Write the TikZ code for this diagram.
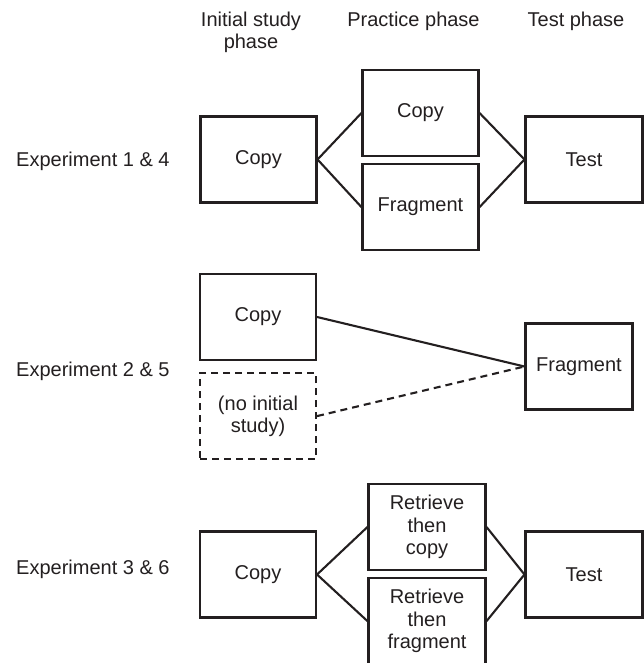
\documentclass[tikz,border=0pt]{standalone}
\usepackage{fontspec}
\setmainfont{Liberation Sans}
\usetikzlibrary{positioning}
\definecolor{ink}{RGB}{35,31,32}

\begin{document}
\begin{tikzpicture}[x=1pt,y=-1pt,
    every node/.style={font=\fontsize{20}{22.5}\selectfont,text=ink},
    box/.style={draw=ink,line width=2.1pt,align=center,inner sep=0pt,
                minimum width=116pt,minimum height=86pt},
    nobox/.style={box,dash pattern=on 7pt off 5pt},
    head/.style={anchor=north,align=center,inner sep=0pt},
    expt/.style={anchor=base west,inner sep=0pt},
    link/.style={draw=ink,line width=2.1pt}]
  \useasboundingbox (0,0) rectangle (644,663);

  % column headings
  \node[head] (hstudy) at (251,11.4)   {Initial study\\phase};
  \node[head] (hprac)  at (413.5,11.4) {Practice phase};
  \node[head] (htest)  at (576,11.4)   {Test phase};

  % experiment 1 & 4
  \node[expt] (exA) at (16,167) {Experiment 1 \& 4};
  \node[box]  (copyA) at (258.5,159.5) {Copy};
  \node[box]  (pracA) at (420.5,113)   {Copy};
  \node[box]  (fragA) [below=6pt of pracA] {Fragment};
  \node[box,minimum width=117pt] (testA) at (584,159.5) {Test};

  % experiment 2 & 5
  \node[expt]  (exB) at (16,376) {Experiment 2 \& 5};
  \node[box]   (copyB) at (258,317) {Copy};
  \node[nobox] (noneB) [below=11pt of copyB] {(no initial\\study)};
  \node[box,minimum width=107pt] (fragB) at (579,366.5) {Fragment};

  % experiment 3 & 6
  \node[expt] (exC) at (16,574) {Experiment 3 \& 6};
  \node[box]  (copyC) at (258,574.5) {Copy};
  \node[box,minimum width=117pt] (retcC) at (427,527) {Retrieve\\then\\copy};
  \node[box,minimum width=117pt] (retfC) [below=6pt of retcC] {Retrieve\\then\\fragment};
  \node[box,minimum width=117pt] (testC) at (584,574.5) {Test};

  \path[link] (copyA.east) edge (pracA.west)
                           edge (fragA.west)
              (testA.west) edge (pracA.east)
                           edge (fragA.east)
              (copyB.east) edge (fragB.west)
              (noneB.east) edge [dash pattern=on 7pt off 5pt] (fragB.west)
              (copyC.east) edge (retcC.west)
                           edge (retfC.west)
              (testC.west) edge (retcC.east)
                           edge (retfC.east);
\end{tikzpicture}
\end{document}
